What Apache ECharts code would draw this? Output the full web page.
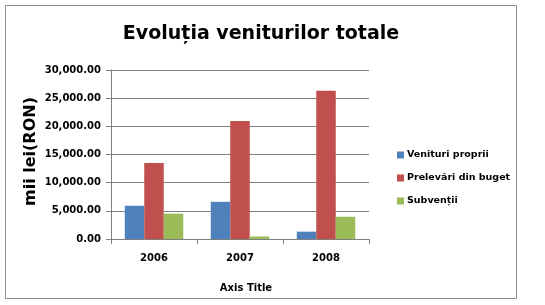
<!DOCTYPE html>
<html>
<head>
<meta charset="utf-8">
<script src="https://cdn.jsdelivr.net/npm/echarts@6/dist/echarts.min.js"></script>
<style>
html,body{margin:0;padding:0;background:#fff;}
#c{width:545px;height:305px;}
</style>
</head>
<body>
<div id="c"></div>
<script>
var categories = ['2006', '2007', '2008'];
var venituriProprii = [5900, 6600, 1300];
var prelevariBuget = [13500, 20950, 26300];
var subventii = [4500, 450, 3950];
var yTicks = [0, 5000, 10000, 15000, 20000, 25000, 30000];
var seriesNames = ['Venituri proprii', 'Prelevări din buget', 'Subvenții'];

function fmt(v) {
  var s = Math.round(v).toString().replace(/\B(?=(\d{3})+(?!\d))/g, ',');
  return s + '.00';
}

var chart = echarts.init(document.getElementById('c'), null, {renderer: 'canvas'});
var font = 'DejaVu Sans';
chart.setOption({
  animation: false,
  backgroundColor: '#fff',
  title: {
    text: 'Evoluția veniturilor totale',
    left: 256, top: 20, textAlign: 'center',
    textStyle: {fontFamily: font, fontWeight: 'bold', fontSize: 19, color: '#000'}
  },
  graphic: [{
    type: 'rect', shape: {x: 5.5, y: 5.5, width: 511, height: 293},
    style: {fill: 'none', stroke: '#8c8c8c', lineWidth: 1}, silent: true
  }],
  legend: {
    orient: 'vertical', left: 392, top: 145, itemGap: 13,
    itemWidth: 7, itemHeight: 7, icon: 'rect',
    textStyle: {fontFamily: font, fontWeight: 'bold', fontSize: 9.5, color: '#000', padding: [0,0,0,-2]},
    data: seriesNames
  },
  grid: {left: 111, right: 176, top: 70, bottom: 66, containLabel: false},
  xAxis: {
    type: 'category', data: categories,
    name: 'Axis Title', nameLocation: 'middle', nameGap: 44,
    nameTextStyle: {fontFamily: font, fontWeight: 'bold', fontSize: 10, color: '#000', padding: [0,0,0,12]},
    axisLine: {lineStyle: {color: '#808080'}},
    axisTick: {show: true, length: 5, lineStyle: {color: '#808080'}},
    axisLabel: {fontFamily: font, fontWeight: 'bold', fontSize: 10, color: '#000', margin: 14}
  },
  yAxis: {
    type: 'value', min: 0, max: 30000, interval: 5000,
    name: 'mii lei(RON)', nameLocation: 'middle', nameGap: 72, nameRotate: 90,
    nameTextStyle: {fontFamily: font, fontWeight: 'bold', fontSize: 16, color: '#000', padding: [0,0,0,6]},
    axisLine: {show: true, lineStyle: {color: '#808080'}},
    axisTick: {show: true, length: 5, lineStyle: {color: '#808080'}},
    splitLine: {lineStyle: {color: '#808080'}},
    axisLabel: {fontFamily: font, fontWeight: 'bold', fontSize: 10, color: '#000', margin: 10,
      formatter: function (v) { return yTicks.indexOf(v) >= 0 ? fmt(v) : ''; }}
  },
  series: [
    {name: seriesNames[0], type: 'bar', data: venituriProprii, itemStyle: {color: '#4F81BD'}, barGap: '0%', barCategoryGap: '32%'},
    {name: seriesNames[1], type: 'bar', data: prelevariBuget, itemStyle: {color: '#C0504D'}, barGap: '0%', barCategoryGap: '32%'},
    {name: seriesNames[2], type: 'bar', data: subventii, itemStyle: {color: '#9BBB59'}, barGap: '0%', barCategoryGap: '32%'}
  ]
});
</script>
</body>
</html>
